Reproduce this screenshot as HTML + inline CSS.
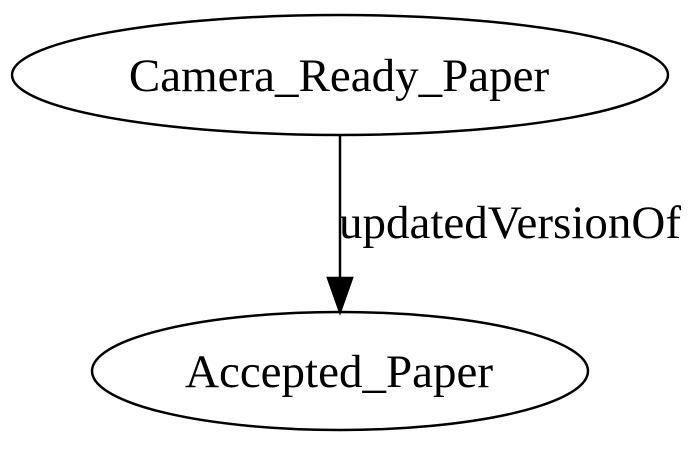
<!DOCTYPE html>
<html><head><meta charset="utf-8"><style>html,body{margin:0;padding:0;background:#fff}</style></head>
<body>
<svg width="700" height="445" viewBox="0 0 700 445" xmlns="http://www.w3.org/2000/svg">
<rect width="700" height="445" fill="#fff"/>
<ellipse cx="340" cy="75" rx="328" ry="60" fill="none" stroke="#000" stroke-width="2.5"/>
<text x="339" y="91" text-anchor="middle" font-family="Liberation Serif, serif" font-size="47">Camera_Ready_Paper</text>
<line x1="340" y1="135" x2="340" y2="278" stroke="#000" stroke-width="2.5"/>
<polygon points="328,278 352,278 340,312" fill="#000" stroke="#000" stroke-width="2.5"/>
<text x="510" y="238" text-anchor="middle" font-family="Liberation Serif, serif" font-size="47">updatedVersionOf</text>
<ellipse cx="340" cy="371" rx="248" ry="59" fill="none" stroke="#000" stroke-width="2.5"/>
<text x="339" y="387" text-anchor="middle" font-family="Liberation Serif, serif" font-size="47">Accepted_Paper</text>
</svg>
</body></html>
